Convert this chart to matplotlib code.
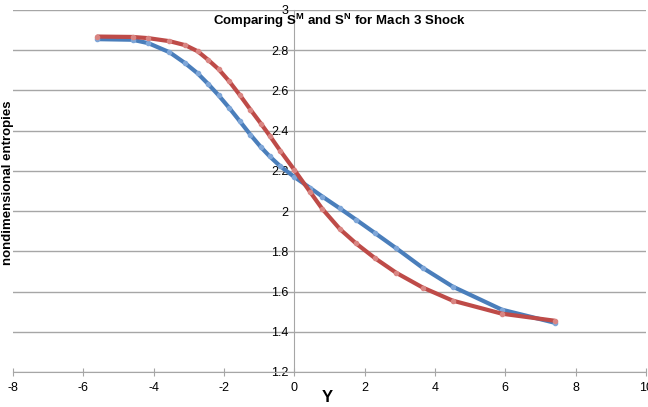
import matplotlib
matplotlib.use("Agg")
import matplotlib.pyplot as plt

# Y positions of the sample points
y_pos = [-5.6, -4.6, -4.15, -3.55, -3.1, -2.75, -2.45, -2.15, -1.85, -1.55,
         -1.25, -0.95, -0.7, -0.4, 0.0, 0.45, 0.8, 1.3, 1.75, 2.3, 2.9, 3.65,
         4.5, 5.9, 7.4]

# nondimensional entropies
s_m = [2.855, 2.852, 2.835, 2.79, 2.735, 2.685, 2.632, 2.575, 2.513, 2.447,
       2.38, 2.318, 2.272, 2.223, 2.17, 2.115, 2.072, 2.013, 1.958, 1.89,
       1.815, 1.718, 1.625, 1.51, 1.445]
s_n = [2.868, 2.866, 2.86, 2.845, 2.825, 2.795, 2.752, 2.705, 2.645, 2.577,
       2.505, 2.435, 2.375, 2.30, 2.205, 2.095, 2.01, 1.91, 1.84, 1.765,
       1.693, 1.62, 1.555, 1.49, 1.455]

xticks = [-8, -6, -4, -2, 0, 2, 4, 6, 8, 10]
yticks = [1.2, 1.4, 1.6, 1.8, 2.0, 2.2, 2.4, 2.6, 2.8, 3.0]

plt.rcParams["font.family"] = ["Liberation Sans", "DejaVu Sans"]

fig = plt.figure(figsize=(6.48, 4.07), dpi=100)
ax = fig.add_axes([13 / 648, 1 - 372 / 407, 633 / 648, 362 / 407])

ax.plot(y_pos, s_m, color="#4a7ebb", linewidth=3, solid_capstyle="round",
        solid_joinstyle="round", marker="o", markersize=3,
        markerfacecolor="#7ea6d8", markeredgecolor="#7ea6d8", zorder=3)
ax.plot(y_pos, s_n, color="#be4b48", linewidth=3, solid_capstyle="round",
        solid_joinstyle="round", marker="o", markersize=3,
        markerfacecolor="#d98582", markeredgecolor="#d98582", zorder=3)

ax.set_xlim(-8, 10)
ax.set_ylim(1.2, 3.0)
ax.set_xticks(xticks)
ax.set_yticks(yticks)
ax.set_xticklabels([str(t) for t in xticks])
ax.set_yticklabels(["%g" % t for t in yticks])

ax.grid(axis="y", color="#a6a6a6", linewidth=1)
ax.set_axisbelow(True)

for s in ["top", "right"]:
    ax.spines[s].set_visible(False)
ax.spines["left"].set_position(("data", 0))
ax.spines["left"].set_color("#a6a6a6")
ax.spines["bottom"].set_color("#a6a6a6")
ax.tick_params(axis="x", direction="inout", length=6, color="#a6a6a6",
               labelsize=9, pad=4)
ax.tick_params(axis="y", length=0, labelsize=9, pad=4)

ax.text(0.515, 0.97, r"Comparing S$^{\mathregular{M}}$ and S$^{\mathregular{N}}$ for Mach 3 Shock",
        transform=ax.transAxes, ha="center", va="center",
        fontsize=9.5, fontweight="bold")
fig.text(8 / 648, 1 - 183 / 407, "nondimensional entropies", rotation=90,
         ha="center", va="center", fontsize=9.5, fontweight="bold")
fig.text(327 / 648, 1 - 398 / 407, "Y", ha="center", va="center",
         fontsize=12, fontweight="bold")

fig.savefig("out.png", dpi=100)
